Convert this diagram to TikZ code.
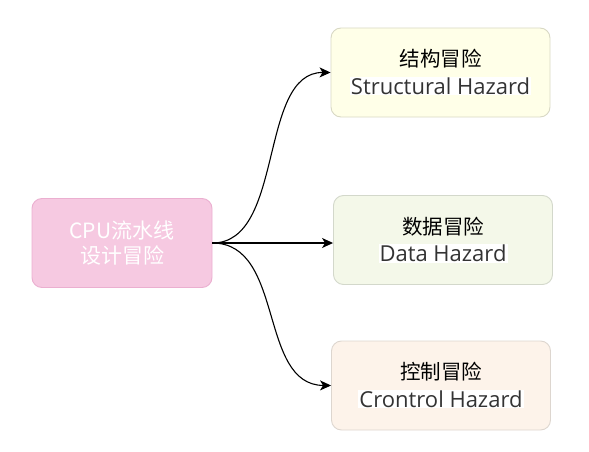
\documentclass[tikz,border=0pt]{standalone}
\usepackage{fontspec}
\setmainfont{Open Sans}
\newfontfamily\cjk{Noto Sans CJK SC}
\usetikzlibrary{arrows.meta}

\definecolor{pinkfill}{HTML}{F6C9E1}
\definecolor{pinkline}{HTML}{EBAFD0}
\definecolor{yellowfill}{HTML}{FFFFE8}
\definecolor{yellowline}{HTML}{D8D8C4}
\definecolor{greenfill}{HTML}{F4F8E9}
\definecolor{greenline}{HTML}{D3D8CB}
\definecolor{orangefill}{HTML}{FDF3EA}
\definecolor{orangeline}{HTML}{DDD6CF}
\definecolor{engtext}{HTML}{333333}

\tikzset{
  hazard/.style={draw, rounded corners=10pt, minimum width=219pt, minimum height=89pt,
    inner sep=0pt, align=center, line width=0.9pt},
  link/.style={-{Stealth[length=11pt,width=10pt,inset=3pt]}, line width=1.1pt}
}
\newcommand{\zh}[1]{{\cjk\fontsize{20.5}{22}\selectfont #1}}
\newcommand{\en}[1]{{\fontsize{22}{22}\selectfont\setlength{\fboxsep}{1pt}\colorbox{white}{\textcolor{engtext}{#1}}}}

\begin{document}
\begin{tikzpicture}[x=1pt,y=-1pt]
\useasboundingbox (0,0) rectangle (589,452);
% source box
\node[hazard, minimum width=180pt, fill=pinkfill, draw=pinkline, text=white,
  font=\cjk\fontsize{21}{25}\selectfont] (pipe) at (122,243) {CPU流水线\\设计冒险};
% three kinds of hazard
\node[hazard, fill=yellowfill, draw=yellowline] (struct) at (440.5,72.5)
  {\zh{结构冒险}\\[7pt]\en{Structural Hazard}};
\node[hazard, fill=greenfill, draw=greenline] (data) at (443,240)
  {\zh{数据冒险}\\[7pt]\en{Data Hazard}};
\node[hazard, fill=orangefill, draw=orangeline] (ctrl) at (441,385.5)
  {\zh{控制冒险}\\[7pt]\en{Crontrol Hazard}};
% connectors
\draw[link] (pipe.east) .. controls (285,243) and (258,72) .. (struct.west);
\draw[link] (pipe.east) -- (pipe.east -| data.west);
\draw[link] (pipe.east) .. controls (285,243) and (258,385) .. (ctrl.west);
\end{tikzpicture}
\end{document}
